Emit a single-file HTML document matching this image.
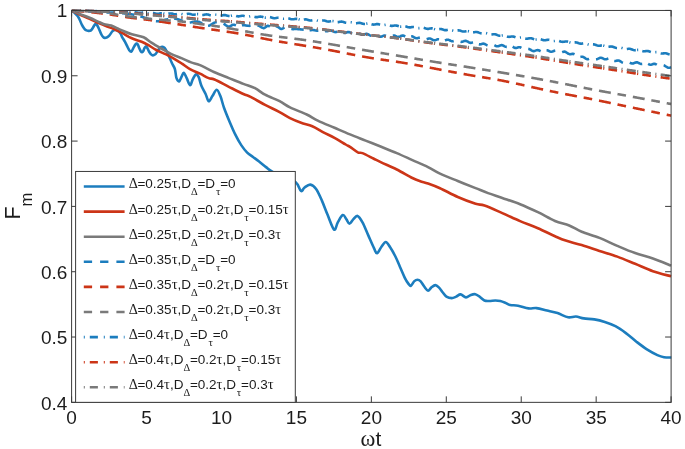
<!DOCTYPE html>
<html lang="en">
<head>
<meta charset="utf-8">
<title>Fidelity F_m versus ωt</title>
<style>
html,body{margin:0;padding:0;background:#ffffff;}
body{width:685px;height:449px;overflow:hidden;font-family:"Liberation Sans",sans-serif;}
svg{display:block;will-change:transform;}
</style>
</head>
<body>
<svg width="685" height="449" viewBox="0 0 685 449">
<rect x="0" y="0" width="685" height="449" fill="#ffffff"/>
<defs><clipPath id="ax"><rect x="71.6" y="8.9" width="600.0" height="393.4"/></clipPath></defs>
<g clip-path="url(#ax)">
<path d="M71.60 10.60C72.17 11.05 73.97 12.37 75.00 13.30C76.03 14.23 77.00 15.08 77.80 16.20C78.60 17.32 79.13 18.58 79.80 20.00C80.47 21.42 81.10 23.32 81.80 24.70C82.50 26.08 83.32 27.38 84.00 28.30C84.68 29.22 85.15 29.77 85.90 30.20C86.65 30.63 87.65 30.87 88.50 30.90C89.35 30.93 90.25 30.95 91.00 30.40C91.75 29.85 92.42 28.52 93.00 27.60C93.58 26.68 94.07 25.52 94.50 24.90C94.93 24.28 95.22 23.90 95.60 23.90C95.98 23.90 96.33 24.28 96.80 24.90C97.27 25.52 97.63 26.00 98.40 27.60C99.17 29.20 100.60 32.93 101.40 34.50C102.20 36.07 102.63 36.43 103.20 37.00C103.77 37.57 104.17 37.85 104.80 37.90C105.43 37.95 106.27 37.67 107.00 37.30C107.73 36.93 108.33 36.67 109.20 35.70C110.07 34.73 111.43 32.42 112.20 31.50C112.97 30.58 113.25 30.45 113.80 30.20C114.35 29.95 114.80 29.87 115.50 30.00C116.20 30.13 117.17 30.42 118.00 31.00C118.83 31.58 119.83 32.53 120.50 33.50C121.17 34.47 121.27 35.45 122.00 36.80C122.73 38.15 124.08 40.13 124.90 41.60C125.72 43.07 126.22 44.23 126.90 45.60C127.58 46.97 128.27 48.78 129.00 49.80C129.73 50.82 130.50 52.15 131.30 51.70C132.10 51.25 133.10 48.32 133.80 47.10C134.50 45.88 135.02 44.98 135.50 44.40C135.98 43.82 136.28 43.53 136.70 43.60C137.12 43.67 137.58 44.05 138.00 44.80C138.42 45.55 138.75 47.03 139.20 48.10C139.65 49.17 140.22 50.50 140.70 51.20C141.18 51.90 141.65 52.35 142.10 52.30C142.55 52.25 143.00 51.60 143.40 50.90C143.80 50.20 143.98 48.82 144.50 48.10C145.02 47.38 145.75 46.03 146.50 46.60C147.25 47.17 148.25 50.22 149.00 51.50C149.75 52.78 150.35 53.65 151.00 54.30C151.65 54.95 152.10 55.47 152.90 55.40C153.70 55.33 154.98 54.72 155.80 53.90C156.62 53.08 157.05 51.55 157.80 50.50C158.55 49.45 159.52 48.22 160.30 47.60C161.08 46.98 161.78 46.73 162.50 46.80C163.22 46.87 163.88 47.22 164.60 48.00C165.32 48.78 166.05 50.10 166.80 51.50C167.55 52.90 168.23 54.43 169.10 56.40C169.97 58.37 171.03 61.18 172.00 63.30C172.97 65.42 174.15 66.62 174.90 69.10C175.65 71.58 175.80 76.15 176.50 78.20C177.20 80.25 178.25 81.65 179.10 81.40C179.95 81.15 180.82 78.13 181.60 76.70C182.38 75.27 182.95 72.55 183.80 72.80C184.65 73.05 185.65 76.13 186.70 78.20C187.75 80.27 189.12 84.97 190.10 85.20C191.08 85.43 191.65 81.38 192.60 79.60C193.55 77.82 194.80 74.95 195.80 74.50C196.80 74.05 197.68 75.07 198.60 76.90C199.52 78.73 200.15 82.70 201.30 85.50C202.45 88.30 204.27 91.07 205.50 93.70C206.73 96.33 207.55 100.90 208.70 101.30C209.85 101.70 211.07 98.03 212.40 96.10C213.73 94.17 215.37 89.70 216.70 89.70C218.03 89.70 219.18 93.10 220.40 96.10C221.62 99.10 222.43 103.35 224.00 107.70C225.57 112.05 227.87 117.62 229.80 122.20C231.73 126.78 233.67 131.33 235.60 135.20C237.53 139.07 239.47 142.50 241.40 145.40C243.33 148.30 245.27 150.67 247.20 152.60C249.13 154.53 251.07 155.55 253.00 157.00C254.93 158.45 256.63 159.62 258.80 161.30C260.97 162.98 263.83 165.42 266.00 167.10C268.17 168.78 268.97 169.75 271.80 171.40C274.63 173.05 279.02 175.18 283.00 177.00C286.98 178.82 292.70 179.97 295.70 182.30C298.70 184.63 299.53 190.13 301.00 191.00C302.47 191.87 302.95 188.57 304.50 187.50C306.05 186.43 308.37 184.35 310.30 184.60C312.23 184.85 314.17 186.33 316.10 189.00C318.03 191.67 319.97 196.25 321.90 200.60C323.83 204.95 325.67 210.27 327.70 215.10C329.73 219.93 332.42 228.40 334.10 229.60C335.78 230.80 336.35 224.72 337.80 222.30C339.25 219.88 341.35 215.58 342.80 215.10C344.25 214.62 345.40 217.95 346.50 219.40C347.60 220.85 348.28 223.80 349.40 223.80C350.52 223.80 351.85 220.72 353.20 219.40C354.55 218.08 355.95 215.42 357.50 215.90C359.05 216.38 360.70 219.05 362.50 222.30C364.30 225.55 366.37 231.05 368.30 235.40C370.23 239.75 372.65 245.42 374.10 248.40C375.55 251.38 375.80 253.53 377.00 253.30C378.20 253.07 379.85 248.88 381.30 247.00C382.75 245.12 384.25 242.00 385.70 242.00C387.15 242.00 388.38 244.58 390.00 247.00C391.62 249.42 393.75 253.22 395.40 256.50C397.05 259.78 398.33 263.15 399.90 266.70C401.47 270.25 403.37 274.93 404.80 277.80C406.23 280.67 407.48 282.57 408.50 283.90C409.52 285.23 409.97 286.22 410.90 285.80C411.83 285.38 413.00 282.42 414.10 281.40C415.20 280.38 416.40 279.70 417.50 279.70C418.60 279.70 419.55 280.22 420.70 281.40C421.85 282.58 423.17 285.25 424.40 286.80C425.63 288.35 426.97 290.57 428.10 290.70C429.23 290.83 429.98 288.53 431.20 287.60C432.42 286.67 434.08 285.10 435.40 285.10C436.72 285.10 437.87 286.37 439.10 287.60C440.33 288.83 441.58 291.00 442.80 292.50C444.02 294.00 444.90 295.67 446.40 296.60C447.90 297.53 450.17 298.10 451.80 298.10C453.43 298.10 454.73 297.22 456.20 296.60C457.67 295.98 458.97 294.27 460.60 294.40C462.23 294.53 464.28 297.32 466.00 297.40C467.72 297.48 469.35 295.43 470.90 294.90C472.45 294.37 473.87 293.92 475.30 294.20C476.73 294.48 477.98 295.55 479.50 296.60C481.02 297.65 482.77 299.77 484.40 300.50C486.03 301.23 487.47 301.00 489.30 301.00C491.13 301.00 493.57 300.50 495.40 300.50C497.23 300.50 498.67 300.63 500.30 301.00C501.93 301.37 503.55 302.03 505.20 302.70C506.85 303.37 508.05 304.50 510.20 305.00C512.35 305.50 515.03 305.13 518.10 305.70C521.17 306.27 525.53 308.00 528.60 308.40C531.67 308.80 533.43 307.75 536.50 308.10C539.57 308.45 543.50 309.67 547.00 310.50C550.50 311.33 553.98 311.97 557.50 313.10C561.02 314.23 565.03 316.73 568.10 317.30C571.17 317.87 573.28 316.32 575.90 316.50C578.52 316.68 580.73 317.92 583.80 318.40C586.87 318.88 590.80 318.80 594.30 319.40C597.80 320.00 601.28 320.87 604.80 322.00C608.32 323.13 611.88 324.35 615.40 326.20C618.92 328.05 622.40 330.52 625.90 333.10C629.40 335.68 632.90 338.98 636.40 341.70C639.90 344.42 643.40 347.17 646.90 349.40C650.40 351.63 654.55 353.80 657.40 355.10C660.25 356.40 661.65 356.80 664.00 357.20C666.35 357.60 670.25 357.45 671.50 357.50" fill="none" stroke="#1c7dbe" stroke-width="2.60" stroke-linejoin="round"/>
<path d="M71.60 10.50C72.97 11.18 76.80 13.22 79.80 14.60C82.80 15.98 86.33 17.33 89.60 18.80C92.87 20.27 96.45 22.10 99.40 23.40C102.35 24.70 104.85 25.65 107.30 26.60C109.75 27.55 111.65 28.05 114.10 29.10C116.55 30.15 119.05 31.37 122.00 32.90C124.95 34.43 128.53 36.83 131.80 38.30C135.07 39.77 138.98 40.65 141.60 41.70C144.22 42.75 145.05 43.22 147.50 44.60C149.95 45.98 153.20 48.37 156.30 50.00C159.40 51.63 162.83 52.77 166.10 54.40C169.37 56.03 173.25 58.25 175.90 59.80C178.55 61.35 179.65 62.13 182.00 63.70C184.35 65.27 187.00 67.53 190.00 69.20C193.00 70.87 196.88 72.22 200.00 73.70C203.12 75.18 206.28 77.13 208.70 78.10C211.12 79.07 211.13 78.05 214.50 79.50C217.87 80.95 224.08 84.38 228.90 86.80C233.72 89.22 239.78 92.32 243.40 94.00C247.02 95.68 246.98 95.08 250.60 96.90C254.22 98.72 260.27 102.37 265.10 104.90C269.93 107.43 275.45 109.88 279.60 112.10C283.75 114.32 286.42 116.42 290.00 118.20C293.58 119.98 297.38 121.47 301.10 122.80C304.82 124.13 308.58 124.62 312.30 126.20C316.02 127.78 319.70 130.37 323.40 132.30C327.10 134.23 330.78 135.77 334.50 137.80C338.22 139.83 343.12 143.00 345.70 144.50C348.28 146.00 347.98 145.50 350.00 146.80C352.02 148.10 355.72 151.25 357.80 152.30C359.88 153.35 359.90 152.07 362.50 153.10C365.10 154.13 370.28 156.95 373.40 158.50C376.52 160.05 377.30 160.57 381.20 162.40C385.10 164.23 391.60 166.90 396.80 169.50C402.00 172.10 408.50 176.05 412.40 178.00C416.30 179.95 417.60 180.28 420.20 181.20C422.80 182.12 424.70 182.33 428.00 183.50C431.30 184.67 435.03 185.95 440.00 188.20C444.97 190.45 451.87 194.40 457.80 197.00C463.73 199.60 471.15 202.37 475.60 203.80C480.05 205.23 480.05 204.05 484.50 205.60C488.95 207.15 496.37 210.52 502.30 213.10C508.23 215.68 514.17 218.58 520.10 221.10C526.03 223.62 532.08 225.68 537.90 228.20C543.72 230.72 550.37 234.13 555.00 236.20C559.63 238.27 561.25 239.12 565.70 240.60C570.15 242.08 576.07 243.38 581.70 245.10C587.33 246.82 593.57 248.98 599.50 250.90C605.43 252.82 611.37 254.45 617.30 256.60C623.23 258.75 629.17 261.37 635.10 263.80C641.03 266.23 646.90 269.12 652.90 271.20C658.90 273.28 668.07 275.45 671.10 276.30" fill="none" stroke="#cc3517" stroke-width="2.60" stroke-linejoin="round"/>
<path d="M71.60 10.50C72.97 11.07 76.80 12.68 79.80 13.90C82.80 15.12 86.33 16.42 89.60 17.80C92.87 19.18 96.95 21.13 99.40 22.20C101.85 23.27 102.33 23.63 104.30 24.20C106.27 24.77 108.75 24.78 111.20 25.60C113.65 26.42 117.20 28.30 119.00 29.10C120.80 29.90 119.87 29.53 122.00 30.40C124.13 31.27 128.20 33.15 131.80 34.30C135.40 35.45 140.33 35.90 143.60 37.30C146.87 38.70 148.47 40.83 151.40 42.70C154.33 44.57 157.93 46.63 161.20 48.50C164.47 50.37 167.53 52.25 171.00 53.90C174.47 55.55 178.65 56.98 182.00 58.40C185.35 59.82 188.10 61.28 191.10 62.40C194.10 63.52 196.10 63.45 200.00 65.10C203.90 66.75 209.68 70.13 214.50 72.30C219.32 74.47 224.08 76.17 228.90 78.10C233.72 80.03 239.05 82.22 243.40 83.90C247.75 85.58 251.38 86.40 255.00 88.20C258.62 90.00 261.00 92.53 265.10 94.70C269.20 96.87 275.45 99.08 279.60 101.20C283.75 103.32 285.48 105.18 290.00 107.40C294.52 109.62 302.07 112.30 306.70 114.50C311.33 116.70 313.17 118.38 317.80 120.60C322.43 122.82 329.13 125.50 334.50 127.80C339.87 130.10 344.82 132.27 350.00 134.40C355.18 136.53 360.40 138.53 365.60 140.60C370.80 142.67 376.00 144.72 381.20 146.80C386.40 148.88 391.60 150.88 396.80 153.10C402.00 155.32 407.20 157.77 412.40 160.10C417.60 162.43 423.40 164.85 428.00 167.10C432.60 169.35 435.03 171.28 440.00 173.60C444.97 175.92 451.87 178.58 457.80 181.00C463.73 183.42 470.55 186.08 475.60 188.10C480.65 190.12 483.65 191.47 488.10 193.10C492.55 194.73 496.97 196.05 502.30 197.90C507.63 199.75 514.17 201.82 520.10 204.20C526.03 206.58 532.08 209.40 537.90 212.20C543.72 215.00 549.78 218.78 555.00 221.00C560.22 223.22 564.75 223.72 569.20 225.50C573.65 227.28 576.65 229.63 581.70 231.70C586.75 233.77 593.57 235.53 599.50 237.90C605.43 240.27 611.37 243.37 617.30 245.90C623.23 248.43 629.17 251.02 635.10 253.10C641.03 255.18 646.90 256.32 652.90 258.40C658.90 260.48 668.07 264.40 671.10 265.60" fill="none" stroke="#7a7a7a" stroke-width="2.60" stroke-linejoin="round"/>
<path d="M72.65 10.57L73.38 10.61L74.10 10.65L74.83 10.69L75.55 10.73L76.28 10.77L77.00 10.81L77.72 10.85L78.45 10.89L79.17 10.93L79.90 10.97L80.62 11.02L81.35 11.06M88.20 11.43L88.93 11.47L89.66 11.51L90.39 11.55L91.12 11.59L91.85 11.63L92.58 11.67L93.31 11.70L94.04 11.74L94.76 11.78L95.49 11.82L96.22 11.85L96.95 11.89L97.68 11.93L98.41 11.96L99.14 12.00L99.87 12.04L100.60 12.07M106.50 12.35L107.22 12.38L107.95 12.41L108.67 12.44L109.40 12.47L110.12 12.51L110.85 12.54L111.58 12.57L112.30 12.60L113.03 12.63L113.75 12.66L114.48 12.69L115.20 12.72M122.05 13.14L122.78 13.20L123.51 13.27L124.24 13.34L124.97 13.41L125.70 13.49L126.43 13.57L127.16 13.66L127.89 13.75L128.61 13.85L129.34 13.95L130.07 14.07L130.80 14.18L131.53 14.31L132.26 14.44L132.99 14.58L133.72 14.72L134.45 14.88M140.35 16.40L141.08 16.62L141.80 16.84L142.53 17.07L143.25 17.31L143.98 17.54L144.70 17.79L145.43 18.03L146.15 18.28L146.88 18.54L147.60 18.79L148.33 19.06L149.05 19.32M155.90 21.22L156.63 21.27L157.36 21.27L158.09 21.24L158.82 21.18L159.55 21.10L160.28 20.98L161.01 20.85L161.74 20.70L162.46 20.53L163.19 20.36L163.92 20.18L164.65 19.99L165.38 19.81L166.11 19.62L166.84 19.45L167.57 19.29L168.30 19.14M174.20 18.68L174.93 18.73L175.65 18.81L176.38 18.92L177.10 19.06L177.83 19.23L178.55 19.43L179.28 19.66L180.00 19.91L180.73 20.17L181.45 20.44L182.18 20.72L182.90 20.99M189.75 22.49L190.48 22.43L191.21 22.33L191.94 22.20L192.67 22.05L193.40 21.90L194.13 21.76L194.86 21.64L195.59 21.56L196.31 21.52L197.04 21.55L197.77 21.65L198.50 21.82L199.23 22.07L199.96 22.37L200.69 22.71L201.42 23.09L202.15 23.48M208.05 25.80L208.78 25.71L209.50 25.48L210.23 25.14L210.95 24.72L211.68 24.27L212.40 23.81L213.12 23.38L213.85 22.98L214.57 22.64L215.30 22.35L216.03 22.14L216.75 22.01M223.60 23.73L224.33 24.16L225.06 24.64L225.79 25.18L226.52 25.70L227.25 26.16L227.98 26.48L228.71 26.60L229.44 26.48L230.16 26.18L230.89 25.78L231.62 25.36L232.35 25.00L233.08 24.79L233.81 24.76L234.54 24.89L235.27 25.11L236.00 25.38M241.90 25.33L242.63 25.23L243.35 25.19L244.08 25.22L244.80 25.30L245.53 25.41L246.25 25.54L246.98 25.66L247.70 25.76L248.43 25.82L249.15 25.84L249.88 25.82L250.60 25.77M257.45 25.44L258.18 25.60L258.91 25.84L259.64 26.16L260.37 26.58L261.10 27.05L261.83 27.50L262.56 27.87L263.29 28.09L264.01 28.08L264.74 27.78L265.47 27.26L266.20 26.66L266.93 26.13L267.66 25.82L268.39 25.86L269.12 26.18L269.85 26.62M275.75 26.39L276.48 26.41L277.20 26.57L277.93 26.87L278.65 27.35L279.38 27.95L280.10 28.51L280.83 28.88L281.55 28.94L282.28 28.72L283.00 28.34L283.73 27.88L284.45 27.45M291.30 28.95L292.03 29.05L292.76 29.08L293.49 29.08L294.22 29.06L294.95 29.03L295.68 29.00L296.41 29.00L297.14 29.03L297.86 29.08L298.59 29.15L299.32 29.23L300.05 29.31L300.78 29.40L301.51 29.48L302.24 29.54L302.97 29.58L303.70 29.63M309.60 30.19L310.33 30.15L311.05 30.09L311.78 30.03L312.50 30.01L313.23 30.03L313.95 30.12L314.68 30.25L315.40 30.40L316.12 30.55L316.85 30.66L317.57 30.70L318.30 30.66M325.15 31.01L325.88 31.17L326.61 31.23L327.34 31.17L328.07 31.01L328.80 30.81L329.53 30.63L330.26 30.53L330.99 30.55L331.71 30.71L332.44 30.99L333.17 31.33L333.90 31.68L334.63 31.95L335.36 32.08L336.09 32.06L336.82 31.89L337.55 31.65M343.45 32.84L344.18 33.02L344.90 33.02L345.63 32.86L346.35 32.60L347.08 32.32L347.80 32.11L348.53 32.03L349.25 32.13L349.98 32.40L350.70 32.77L351.43 33.19L352.15 33.55M359.00 33.24L359.73 33.63L360.46 34.06L361.19 34.43L361.92 34.67L362.65 34.74L363.38 34.65L364.11 34.43L364.84 34.16L365.56 33.93L366.29 33.83L367.02 33.89L367.75 34.13L368.48 34.51L369.21 34.94L369.94 35.35L370.67 35.66L371.40 35.79M377.30 35.40L378.03 35.81L378.75 36.21L379.48 36.52L380.20 36.68L380.93 36.66L381.65 36.48L382.38 36.19L383.10 35.89L383.82 35.65L384.55 35.55L385.27 35.62L386.00 35.84M392.85 35.72L393.58 35.58L394.31 35.62L395.04 35.82L395.77 36.13L396.50 36.47L397.23 36.75L397.96 36.90L398.69 36.88L399.41 36.69L400.14 36.38L400.87 36.04L401.60 35.74L402.33 35.58L403.06 35.59L403.79 35.78L404.52 36.11L405.25 36.50M411.15 36.28L411.88 36.31L412.60 36.51L413.33 36.86L414.05 37.30L414.78 37.73L415.50 38.07L416.23 38.26L416.95 38.27L417.68 38.13L418.40 37.89L419.12 37.64L419.85 37.47M426.70 39.23L427.43 38.97L428.16 38.70L428.89 38.51L429.62 38.46L430.35 38.59L431.08 38.88L431.81 39.28L432.54 39.69L433.26 40.04L433.99 40.25L434.72 40.28L435.45 40.15L436.18 39.89L436.91 39.59L437.64 39.34L438.37 39.21L439.10 39.25M445.00 40.48L445.73 40.17L446.45 39.88L447.18 39.70L447.90 39.68L448.63 39.83L449.35 40.13L450.08 40.51L450.80 40.88L451.53 41.15L452.25 41.28L452.98 41.23L453.70 41.02M460.55 41.71L461.28 41.85L462.01 41.82L462.74 41.63L463.47 41.36L464.20 41.09L464.93 40.90L465.66 40.86L466.39 41.01L467.11 41.32L467.84 41.74L468.57 42.18L469.30 42.55L470.03 42.79L470.76 42.86L471.49 42.76L472.22 42.55L472.95 42.32M478.85 44.23L479.58 44.37L480.30 44.34L481.03 44.17L481.75 43.94L482.48 43.74L483.20 43.65L483.93 43.72L484.65 43.95L485.38 44.32L486.10 44.76L486.82 45.18L487.55 45.50M494.40 45.15L495.13 45.54L495.86 45.92L496.59 46.19L497.32 46.30L498.05 46.24L498.78 46.02L499.51 45.72L500.24 45.42L500.96 45.21L501.69 45.15L502.42 45.27L503.15 45.55L503.88 45.93L504.61 46.34L505.34 46.67L506.07 46.86L506.80 46.88M512.70 46.73L513.43 47.18L514.15 47.57L514.88 47.85L515.60 47.96L516.33 47.90L517.05 47.72L517.78 47.49L518.50 47.29L519.23 47.21L519.95 47.30L520.68 47.56L521.40 47.97M528.25 48.91L528.98 49.01L529.71 49.28L530.44 49.69L531.17 50.16L531.90 50.60L532.63 50.93L533.36 51.10L534.09 51.08L534.81 50.90L535.54 50.63L536.27 50.36L537.00 50.18L537.73 50.13L538.46 50.26L539.19 50.54L539.92 50.90L540.65 51.27M546.55 50.31L547.27 50.35L548.00 50.56L548.72 50.87L549.45 51.23L550.17 51.53L550.90 51.71L551.62 51.72L552.35 51.56L553.08 51.29L553.80 50.97L554.52 50.69L555.25 50.54M562.10 52.13L562.83 51.89L563.56 51.70L564.29 51.64L565.02 51.75L565.75 52.05L566.48 52.49L567.21 53.00L567.94 53.49L568.66 53.89L569.39 54.13L570.12 54.19L570.85 54.13L571.58 53.99L572.31 53.87L573.04 53.85L573.77 54.00L574.50 54.33M580.40 56.93L581.12 56.80L581.85 56.75L582.58 56.82L583.30 57.06L584.02 57.45L584.75 57.93L585.48 58.43L586.20 58.85L586.92 59.13L587.65 59.22L588.38 59.11L589.10 58.87M595.95 59.31L596.68 59.26L597.41 59.04L598.14 58.69L598.87 58.31L599.60 57.98L600.33 57.77L601.06 57.74L601.79 57.90L602.51 58.20L603.24 58.57L603.97 58.93L604.70 59.19L605.43 59.30L606.16 59.25L606.89 59.07L607.62 58.83L608.35 58.61M614.25 60.93L614.98 61.01L615.70 60.94L616.42 60.77L617.15 60.59L617.88 60.48L618.60 60.51L619.33 60.72L620.05 61.07L620.78 61.53L621.50 62.01L622.23 62.42L622.95 62.68M629.80 62.60L630.53 62.99L631.26 63.32L631.99 63.51L632.72 63.52L633.45 63.36L634.18 63.09L634.91 62.77L635.64 62.49L636.36 62.35L637.09 62.37L637.82 62.57L638.55 62.90L639.28 63.29L640.01 63.64L640.74 63.89L641.47 63.96L642.20 63.87M648.10 63.82L648.83 64.23L649.55 64.54L650.28 64.70L651.00 64.68L651.73 64.52L652.45 64.27L653.18 64.02L653.90 63.85L654.62 63.84L655.35 64.00L656.08 64.32L656.80 64.76M663.65 65.37L664.39 65.59L665.14 65.97L665.88 66.46L666.63 66.97L667.38 67.40L668.12 67.68L668.87 67.78L669.61 67.71L670.36 67.53L671.10 67.33" fill="none" stroke="#1c7dbe" stroke-width="2.60" stroke-linejoin="round"/>
<path d="M75.90 10.86L76.61 10.92L77.32 10.98L78.03 11.04L78.73 11.10L79.44 11.16L80.15 11.22L80.86 11.28L81.57 11.34L82.28 11.40L82.98 11.46L83.69 11.52L84.40 11.59M91.25 12.23L91.99 12.30L92.72 12.38L93.46 12.45L94.20 12.53L94.94 12.61L95.67 12.69L96.41 12.77L97.15 12.85L97.89 12.93L98.62 13.01L99.36 13.10L100.10 13.19L100.84 13.27L101.58 13.36L102.31 13.46L103.05 13.55M109.75 14.46L110.46 14.57L111.17 14.68L111.88 14.78L112.58 14.89L113.29 15.00L114.00 15.12L114.71 15.23L115.42 15.34L116.12 15.46L116.83 15.57L117.54 15.69L118.25 15.80M125.10 16.91L125.84 17.02L126.58 17.13L127.31 17.24L128.05 17.35L128.79 17.46L129.53 17.57L130.26 17.67L131.00 17.77L131.74 17.87L132.47 17.96L133.21 18.05L133.95 18.15L134.69 18.24L135.43 18.32L136.16 18.41L136.90 18.50M143.60 19.26L144.31 19.35L145.02 19.43L145.73 19.52L146.43 19.60L147.14 19.69L147.85 19.78L148.56 19.87L149.27 19.97L149.98 20.06L150.68 20.16L151.39 20.26L152.10 20.35M158.95 21.37L159.69 21.49L160.43 21.60L161.16 21.71L161.90 21.83L162.64 21.94L163.38 22.06L164.11 22.17L164.85 22.28L165.59 22.40L166.33 22.51L167.06 22.62L167.80 22.74L168.54 22.85L169.28 22.96L170.01 23.07L170.75 23.18M177.45 24.20L178.16 24.31L178.87 24.41L179.58 24.52L180.28 24.63L180.99 24.75L181.70 24.86L182.41 24.97L183.12 25.08L183.83 25.19L184.53 25.31L185.24 25.42L185.95 25.54M192.80 26.64L193.54 26.76L194.28 26.87L195.01 26.99L195.75 27.11L196.49 27.22L197.23 27.33L197.96 27.45L198.70 27.56L199.44 27.67L200.18 27.78L200.91 27.89L201.65 28.01L202.39 28.11L203.13 28.22L203.86 28.33L204.60 28.44M211.30 29.40L212.01 29.51L212.72 29.61L213.43 29.71L214.13 29.81L214.84 29.91L215.55 30.01L216.26 30.11L216.97 30.21L217.68 30.31L218.38 30.42L219.09 30.52L219.80 30.62M226.65 31.63L227.39 31.74L228.13 31.85L228.86 31.97L229.60 32.08L230.34 32.20L231.08 32.31L231.81 32.43L232.55 32.55L233.29 32.66L234.03 32.78L234.76 32.90L235.50 33.03L236.24 33.15L236.98 33.27L237.71 33.40L238.45 33.52M245.15 34.73L245.86 34.87L246.57 35.00L247.28 35.14L247.98 35.28L248.69 35.42L249.40 35.56L250.11 35.70L250.82 35.85L251.53 35.99L252.23 36.14L252.94 36.29L253.65 36.44M260.50 37.90L261.24 38.05L261.98 38.21L262.71 38.36L263.45 38.52L264.19 38.67L264.93 38.82L265.66 38.97L266.40 39.12L267.14 39.27L267.88 39.42L268.61 39.56L269.35 39.70L270.09 39.85L270.82 39.99L271.56 40.13L272.30 40.27M279.00 41.48L279.71 41.61L280.42 41.73L281.12 41.85L281.83 41.98L282.54 42.10L283.25 42.22L283.96 42.34L284.67 42.46L285.38 42.58L286.08 42.70L286.79 42.81L287.50 42.93M294.35 44.05L295.09 44.17L295.83 44.29L296.56 44.41L297.30 44.53L298.04 44.65L298.78 44.77L299.51 44.89L300.25 45.01L300.99 45.13L301.73 45.25L302.46 45.37L303.20 45.49L303.94 45.61L304.68 45.73L305.41 45.86L306.15 45.98M312.85 47.10L313.56 47.22L314.27 47.34L314.98 47.46L315.68 47.58L316.39 47.70L317.10 47.82L317.81 47.95L318.52 48.07L319.23 48.19L319.93 48.32L320.64 48.44L321.35 48.57M328.20 49.80L328.94 49.94L329.68 50.08L330.41 50.22L331.15 50.36L331.89 50.50L332.63 50.64L333.36 50.78L334.10 50.92L334.84 51.06L335.58 51.21L336.31 51.35L337.05 51.49L337.79 51.64L338.53 51.79L339.26 51.93L340.00 52.08M346.70 53.43L347.41 53.57L348.12 53.71L348.83 53.85L349.53 54.00L350.24 54.14L350.95 54.28L351.66 54.42L352.37 54.56L353.08 54.70L353.78 54.84L354.49 54.98L355.20 55.12M362.05 56.42L362.79 56.55L363.53 56.69L364.26 56.82L365.00 56.95L365.74 57.08L366.48 57.21L367.21 57.34L367.95 57.46L368.69 57.59L369.43 57.71L370.16 57.83L370.90 57.95L371.64 58.07L372.38 58.18L373.11 58.30L373.85 58.42M380.55 59.43L381.26 59.53L381.97 59.63L382.68 59.74L383.38 59.84L384.09 59.94L384.80 60.04L385.51 60.14L386.22 60.25L386.93 60.35L387.63 60.45L388.34 60.55L389.05 60.65M395.90 61.66L396.64 61.77L397.38 61.88L398.11 61.99L398.85 62.11L399.59 62.22L400.33 62.33L401.06 62.45L401.80 62.57L402.54 62.69L403.28 62.81L404.01 62.93L404.75 63.05L405.49 63.17L406.23 63.29L406.96 63.42L407.70 63.55M414.40 64.73L415.11 64.86L415.82 64.99L416.53 65.12L417.23 65.25L417.94 65.38L418.65 65.51L419.36 65.64L420.07 65.78L420.78 65.91L421.48 66.04L422.19 66.18L422.90 66.31M429.75 67.63L430.49 67.77L431.23 67.91L431.96 68.05L432.70 68.20L433.44 68.34L434.18 68.48L434.91 68.62L435.65 68.77L436.39 68.91L437.13 69.05L437.86 69.20L438.60 69.34L439.34 69.48L440.08 69.62L440.81 69.76L441.55 69.91M448.25 71.18L448.96 71.32L449.67 71.45L450.38 71.59L451.08 71.72L451.79 71.85L452.50 71.98L453.21 72.12L453.92 72.25L454.63 72.38L455.33 72.51L456.04 72.64L456.75 72.77M463.60 74.01L464.34 74.14L465.08 74.27L465.81 74.40L466.55 74.53L467.29 74.66L468.03 74.79L468.76 74.92L469.50 75.05L470.24 75.17L470.98 75.30L471.71 75.42L472.45 75.55L473.19 75.67L473.93 75.80L474.66 75.92L475.40 76.04M482.10 77.15L482.81 77.27L483.52 77.38L484.23 77.50L484.93 77.62L485.64 77.73L486.35 77.85L487.06 77.97L487.77 78.09L488.48 78.21L489.18 78.33L489.89 78.45L490.60 78.57M497.45 79.77L498.19 79.90L498.93 80.04L499.66 80.17L500.40 80.31L501.14 80.45L501.88 80.59L502.61 80.73L503.35 80.87L504.09 81.02L504.83 81.16L505.56 81.31L506.30 81.46L507.04 81.61L507.78 81.76L508.51 81.91L509.25 82.06M515.95 83.50L516.66 83.65L517.37 83.81L518.08 83.97L518.78 84.12L519.49 84.28L520.20 84.44L520.91 84.60L521.62 84.76L522.33 84.92L523.03 85.08L523.74 85.24L524.45 85.40M531.30 86.95L532.04 87.11L532.77 87.28L533.51 87.44L534.25 87.61L534.99 87.77L535.72 87.94L536.46 88.10L537.20 88.27L537.94 88.43L538.67 88.59L539.41 88.75L540.15 88.91L540.89 89.07L541.62 89.23L542.36 89.39L543.10 89.55M549.80 90.97L550.51 91.12L551.22 91.26L551.92 91.41L552.63 91.56L553.34 91.70L554.05 91.85L554.76 91.99L555.47 92.14L556.17 92.28L556.88 92.42L557.59 92.57L558.30 92.71M565.15 94.06L565.89 94.21L566.62 94.35L567.36 94.49L568.10 94.64L568.84 94.78L569.57 94.92L570.31 95.06L571.05 95.20L571.79 95.34L572.52 95.48L573.26 95.62L574.00 95.76L574.74 95.90L575.47 96.04L576.21 96.18L576.95 96.32M583.65 97.58L584.36 97.71L585.07 97.85L585.77 97.98L586.48 98.12L587.19 98.26L587.90 98.39L588.61 98.53L589.32 98.67L590.02 98.80L590.73 98.94L591.44 99.08L592.15 99.22M599.00 100.60L599.74 100.75L600.48 100.91L601.21 101.06L601.95 101.21L602.69 101.36L603.42 101.51L604.16 101.67L604.90 101.82L605.64 101.98L606.38 102.13L607.11 102.28L607.85 102.44L608.59 102.59L609.32 102.75L610.06 102.90L610.80 103.06M617.50 104.47L618.21 104.62L618.92 104.77L619.62 104.92L620.33 105.07L621.04 105.22L621.75 105.37L622.46 105.52L623.17 105.67L623.88 105.82L624.58 105.96L625.29 106.11L626.00 106.26M632.85 107.70L633.59 107.85L634.33 108.00L635.06 108.16L635.80 108.31L636.54 108.47L637.27 108.62L638.01 108.77L638.75 108.93L639.49 109.08L640.23 109.23L640.96 109.39L641.70 109.54L642.44 109.69L643.17 109.85L643.91 110.00L644.65 110.15M651.35 111.54L652.06 111.69L652.77 111.83L653.48 111.98L654.18 112.13L654.89 112.27L655.60 112.42L656.31 112.57L657.02 112.71L657.73 112.86L658.43 113.00L659.14 113.15L659.85 113.30M666.70 114.71L667.43 114.86L668.17 115.01L668.90 115.16L669.63 115.32L670.37 115.47L671.10 115.62" fill="none" stroke="#cc3517" stroke-width="2.60" stroke-linejoin="round"/>
<path d="M75.90 10.71L76.61 10.74L77.32 10.78L78.03 10.81L78.73 10.85L79.44 10.88L80.15 10.92L80.86 10.96L81.57 10.99L82.28 11.03L82.98 11.07L83.69 11.11L84.40 11.15M91.25 11.59L91.99 11.64L92.72 11.70L93.46 11.75L94.20 11.81L94.94 11.87L95.67 11.93L96.41 11.99L97.15 12.06L97.89 12.12L98.62 12.19L99.36 12.26L100.10 12.33L100.84 12.41L101.58 12.48L102.31 12.56L103.05 12.64M109.75 13.47L110.46 13.56L111.17 13.67L111.88 13.77L112.58 13.88L113.29 13.98L114.00 14.09L114.71 14.20L115.42 14.32L116.12 14.43L116.83 14.54L117.54 14.66L118.25 14.77M125.10 15.89L125.84 16.01L126.58 16.12L127.31 16.23L128.05 16.35L128.79 16.45L129.53 16.56L130.26 16.67L131.00 16.77L131.74 16.87L132.47 16.97L133.21 17.06L133.95 17.15L134.69 17.24L135.43 17.33L136.16 17.42L136.90 17.50M143.60 18.20L144.31 18.27L145.02 18.34L145.73 18.41L146.43 18.48L147.14 18.54L147.85 18.61L148.56 18.68L149.27 18.74L149.98 18.81L150.68 18.88L151.39 18.94L152.10 19.01M158.95 19.63L159.69 19.70L160.43 19.76L161.16 19.83L161.90 19.89L162.64 19.96L163.38 20.02L164.11 20.08L164.85 20.14L165.59 20.20L166.33 20.26L167.06 20.32L167.80 20.37L168.54 20.43L169.28 20.49L170.01 20.55L170.75 20.60M177.45 21.15L178.16 21.22L178.87 21.28L179.58 21.35L180.28 21.42L180.99 21.49L181.70 21.57L182.41 21.64L183.12 21.72L183.83 21.80L184.53 21.89L185.24 21.97L185.95 22.06M192.80 22.97L193.54 23.07L194.28 23.17L195.01 23.27L195.75 23.38L196.49 23.48L197.23 23.58L197.96 23.68L198.70 23.79L199.44 23.89L200.18 23.99L200.91 24.09L201.65 24.19L202.39 24.29L203.13 24.38L203.86 24.48L204.60 24.58M211.30 25.49L212.01 25.58L212.72 25.68L213.43 25.78L214.13 25.88L214.84 25.99L215.55 26.09L216.26 26.19L216.97 26.30L217.68 26.41L218.38 26.51L219.09 26.62L219.80 26.73M226.65 27.86L227.39 27.99L228.13 28.11L228.86 28.24L229.60 28.37L230.34 28.50L231.08 28.63L231.81 28.77L232.55 28.90L233.29 29.03L234.03 29.17L234.76 29.30L235.50 29.44L236.24 29.57L236.98 29.71L237.71 29.85L238.45 29.99M245.15 31.25L245.86 31.38L246.57 31.52L247.28 31.65L247.98 31.78L248.69 31.92L249.40 32.05L250.11 32.18L250.82 32.32L251.53 32.45L252.23 32.58L252.94 32.71L253.65 32.84M260.50 34.06L261.24 34.19L261.98 34.31L262.71 34.43L263.45 34.56L264.19 34.68L264.93 34.80L265.66 34.91L266.40 35.03L267.14 35.14L267.88 35.26L268.61 35.37L269.35 35.48L270.09 35.59L270.82 35.69L271.56 35.80L272.30 35.90M279.00 36.79L279.71 36.88L280.42 36.97L281.12 37.05L281.83 37.14L282.54 37.23L283.25 37.32L283.96 37.40L284.67 37.49L285.38 37.58L286.08 37.66L286.79 37.75L287.50 37.83M294.35 38.67L295.09 38.76L295.83 38.85L296.56 38.95L297.30 39.04L298.04 39.14L298.78 39.23L299.51 39.33L300.25 39.43L300.99 39.53L301.73 39.63L302.46 39.73L303.20 39.83L303.94 39.93L304.68 40.04L305.41 40.14L306.15 40.25M312.85 41.26L313.56 41.37L314.27 41.48L314.98 41.59L315.68 41.70L316.39 41.82L317.10 41.93L317.81 42.05L318.52 42.16L319.23 42.28L319.93 42.40L320.64 42.51L321.35 42.63M328.20 43.79L328.94 43.92L329.68 44.05L330.41 44.17L331.15 44.30L331.89 44.43L332.63 44.56L333.36 44.69L334.10 44.82L334.84 44.95L335.58 45.08L336.31 45.21L337.05 45.34L337.79 45.47L338.53 45.60L339.26 45.73L340.00 45.86M346.70 47.05L347.41 47.17L348.12 47.30L348.83 47.42L349.53 47.55L350.24 47.67L350.95 47.80L351.66 47.92L352.37 48.05L353.08 48.17L353.78 48.30L354.49 48.42L355.20 48.55M362.05 49.75L362.79 49.88L363.53 50.00L364.26 50.13L365.00 50.26L365.74 50.38L366.48 50.51L367.21 50.64L367.95 50.76L368.69 50.89L369.43 51.01L370.16 51.14L370.90 51.26L371.64 51.38L372.38 51.51L373.11 51.63L373.85 51.76M380.55 52.87L381.26 52.98L381.97 53.10L382.68 53.22L383.38 53.33L384.09 53.45L384.80 53.56L385.51 53.68L386.22 53.80L386.93 53.91L387.63 54.03L388.34 54.15L389.05 54.26M395.90 55.39L396.64 55.51L397.38 55.63L398.11 55.75L398.85 55.88L399.59 56.00L400.33 56.12L401.06 56.24L401.80 56.37L402.54 56.49L403.28 56.61L404.01 56.74L404.75 56.86L405.49 56.99L406.23 57.11L406.96 57.23L407.70 57.36M414.40 58.50L415.11 58.62L415.82 58.74L416.53 58.86L417.23 58.98L417.94 59.10L418.65 59.22L419.36 59.34L420.07 59.46L420.78 59.58L421.48 59.70L422.19 59.82L422.90 59.94M429.75 61.09L430.49 61.21L431.23 61.33L431.96 61.45L432.70 61.58L433.44 61.70L434.18 61.82L434.91 61.94L435.65 62.06L436.39 62.18L437.13 62.30L437.86 62.41L438.60 62.53L439.34 62.65L440.08 62.77L440.81 62.89L441.55 63.00M448.25 64.06L448.96 64.17L449.67 64.28L450.38 64.39L451.08 64.50L451.79 64.61L452.50 64.72L453.21 64.83L453.92 64.94L454.63 65.04L455.33 65.15L456.04 65.26L456.75 65.37M463.60 66.44L464.34 66.55L465.08 66.66L465.81 66.78L466.55 66.90L467.29 67.01L468.03 67.13L468.76 67.24L469.50 67.36L470.24 67.47L470.98 67.59L471.71 67.71L472.45 67.82L473.19 67.94L473.93 68.06L474.66 68.18L475.40 68.30M482.10 69.38L482.81 69.49L483.52 69.61L484.23 69.72L484.93 69.84L485.64 69.96L486.35 70.07L487.06 70.19L487.77 70.30L488.48 70.42L489.18 70.54L489.89 70.65L490.60 70.77M497.45 71.91L498.19 72.03L498.93 72.15L499.66 72.28L500.40 72.40L501.14 72.52L501.88 72.64L502.61 72.77L503.35 72.89L504.09 73.01L504.83 73.14L505.56 73.26L506.30 73.38L507.04 73.51L507.78 73.63L508.51 73.76L509.25 73.88M515.95 75.01L516.66 75.13L517.37 75.25L518.08 75.37L518.78 75.49L519.49 75.61L520.20 75.73L520.91 75.85L521.62 75.98L522.33 76.10L523.03 76.22L523.74 76.34L524.45 76.46M531.30 77.66L532.04 77.79L532.77 77.92L533.51 78.05L534.25 78.19L534.99 78.32L535.72 78.45L536.46 78.58L537.20 78.72L537.94 78.85L538.67 78.98L539.41 79.12L540.15 79.25L540.89 79.39L541.62 79.52L542.36 79.66L543.10 79.80M549.80 81.05L550.51 81.19L551.22 81.32L551.92 81.46L552.63 81.59L553.34 81.73L554.05 81.86L554.76 82.00L555.47 82.14L556.17 82.27L556.88 82.41L557.59 82.55L558.30 82.69M565.15 84.03L565.89 84.18L566.62 84.33L567.36 84.47L568.10 84.62L568.84 84.77L569.57 84.91L570.31 85.06L571.05 85.21L571.79 85.36L572.52 85.51L573.26 85.66L574.00 85.81L574.74 85.96L575.47 86.10L576.21 86.25L576.95 86.40M583.65 87.75L584.36 87.89L585.07 88.03L585.77 88.17L586.48 88.31L587.19 88.45L587.90 88.59L588.61 88.73L589.32 88.87L590.02 89.00L590.73 89.14L591.44 89.28L592.15 89.41M599.00 90.70L599.74 90.84L600.48 90.97L601.21 91.11L601.95 91.24L602.69 91.38L603.42 91.51L604.16 91.65L604.90 91.78L605.64 91.91L606.38 92.05L607.11 92.18L607.85 92.31L608.59 92.45L609.32 92.58L610.06 92.71L610.80 92.85M617.50 94.05L618.21 94.18L618.92 94.30L619.62 94.43L620.33 94.56L621.04 94.69L621.75 94.82L622.46 94.95L623.17 95.07L623.88 95.20L624.58 95.33L625.29 95.46L626.00 95.59M632.85 96.85L633.59 96.98L634.33 97.12L635.06 97.26L635.80 97.39L636.54 97.53L637.27 97.67L638.01 97.80L638.75 97.94L639.49 98.08L640.23 98.21L640.96 98.35L641.70 98.49L642.44 98.63L643.17 98.76L643.91 98.90L644.65 99.04M651.35 100.30L652.06 100.43L652.77 100.56L653.48 100.69L654.18 100.83L654.89 100.96L655.60 101.09L656.31 101.23L657.02 101.36L657.73 101.50L658.43 101.63L659.14 101.76L659.85 101.90M666.70 103.19L667.43 103.33L668.17 103.47L668.90 103.61L669.63 103.75L670.37 103.89L671.10 104.02" fill="none" stroke="#7a7a7a" stroke-width="2.60" stroke-linejoin="round"/>
<path d="M71.60 10.50L72.24 10.52L72.88 10.53L73.53 10.55L74.17 10.56L74.81 10.58L75.45 10.59M79.85 10.70L80.40 10.71L80.95 10.72M85.20 10.83L85.95 10.84L86.70 10.86L87.45 10.88L88.20 10.90L88.95 10.92L89.70 10.94L90.45 10.96L91.20 10.97L91.95 10.99L92.70 11.01L93.45 11.03L94.20 11.05M95.50 11.08L96.05 11.10L96.60 11.11M100.70 11.22L101.42 11.24L102.13 11.26L102.85 11.28L103.57 11.30L104.28 11.32L105.00 11.34L105.72 11.36L106.43 11.38L107.15 11.40L107.87 11.42L108.58 11.44L109.30 11.46M113.70 11.59L114.25 11.61L114.80 11.62M119.05 11.76L119.80 11.79L120.55 11.82L121.30 11.86L122.05 11.89L122.80 11.91L123.55 11.92L124.30 11.93L125.05 11.94L125.80 11.95L126.55 11.98L127.30 12.03L128.05 12.10M129.35 12.23L129.90 12.27L130.45 12.30M134.55 12.24L135.27 12.27L135.98 12.34L136.70 12.45L137.42 12.56L138.13 12.68L138.85 12.77L139.57 12.81L140.28 12.81L141.00 12.76L141.72 12.70L142.43 12.63L143.15 12.59M147.55 13.26L148.10 13.33L148.65 13.35M152.90 12.94L153.65 13.03L154.40 13.20L155.15 13.41L155.90 13.61L156.65 13.76L157.40 13.83L158.15 13.80L158.90 13.67L159.65 13.50L160.40 13.33L161.15 13.22L161.90 13.22M163.20 13.44L163.75 13.60L164.30 13.77M168.40 13.81L169.12 13.63L169.83 13.50L170.55 13.44L171.27 13.47L171.98 13.60L172.70 13.79L173.42 14.01L174.13 14.19L174.85 14.30L175.57 14.32L176.28 14.25L177.00 14.10M181.40 13.88L181.95 14.04L182.50 14.20M186.75 14.09L187.50 13.91L188.25 13.81L189.00 13.81L189.75 13.92L190.50 14.11L191.25 14.34L192.00 14.55L192.75 14.69L193.50 14.73L194.25 14.66L195.00 14.52L195.75 14.34M197.05 14.10L197.60 14.07L198.15 14.10M202.25 15.04L202.97 15.01L203.68 14.91L204.40 14.75L205.12 14.58L205.83 14.45L206.55 14.40L207.27 14.45L207.98 14.59L208.70 14.79L209.42 15.02L210.13 15.21L210.85 15.34M215.25 14.74L215.80 14.73L216.35 14.79M220.60 15.69L221.35 15.62L222.10 15.47L222.85 15.29L223.60 15.14L224.35 15.06L225.10 15.08L225.85 15.21L226.60 15.41L227.35 15.65L228.10 15.85L228.85 15.99L229.60 16.02M230.90 15.84L231.45 15.71L232.00 15.58M236.10 15.90L236.82 16.12L237.53 16.28L238.25 16.36L238.97 16.34L239.68 16.23L240.40 16.07L241.12 15.91L241.83 15.78L242.55 15.74L243.27 15.79L243.98 15.93L244.70 16.14M249.10 16.53L249.65 16.40L250.20 16.28M254.45 16.80L255.14 16.99L255.83 17.12L256.53 17.17L257.22 17.12L257.91 17.01L258.60 16.85L259.30 16.71L259.99 16.61L260.68 16.59L261.37 16.67L262.07 16.83L262.76 17.04L263.45 17.27M264.75 17.59L265.30 17.65L265.85 17.65M269.95 17.12L270.67 17.24L271.38 17.44L272.10 17.68L272.82 17.91L273.53 18.09L274.25 18.18L274.97 18.18L275.68 18.08L276.40 17.94L277.12 17.79L277.83 17.68L278.55 17.65M282.95 18.72L283.50 18.75L284.05 18.73M288.30 18.29L289.05 18.47L289.80 18.70L290.55 18.96L291.30 19.17L292.05 19.30L292.80 19.32L293.55 19.24L294.30 19.10L295.05 18.94L295.80 18.83L296.55 18.79L297.30 18.86M298.60 19.21L299.15 19.39L299.70 19.57M303.80 19.56L304.52 19.43L305.23 19.36L305.95 19.38L306.67 19.50L307.38 19.70L308.10 19.94L308.82 20.17L309.53 20.35L310.25 20.45L310.97 20.44L311.68 20.35L312.40 20.21M316.80 20.40L317.35 20.59L317.90 20.76M322.15 20.62L322.90 20.51L323.65 20.49L324.40 20.58L325.15 20.76L325.90 21.00L326.65 21.25L327.40 21.46L328.15 21.57L328.90 21.58L329.65 21.49L330.40 21.34L331.15 21.19M332.45 21.06L333.00 21.09L333.55 21.18M337.65 22.17L338.37 22.11L339.08 21.99L339.80 21.84L340.52 21.71L341.23 21.64L341.95 21.67L342.67 21.79L343.38 21.99L344.10 22.23L344.82 22.47L345.53 22.65L346.25 22.75M350.65 22.24L351.20 22.29L351.75 22.40M356.00 23.34L356.75 23.25L357.50 23.10L358.25 22.95L359.00 22.85L359.75 22.85L360.50 22.95L361.25 23.15L362.00 23.40L362.75 23.65L363.50 23.85L364.25 23.95L365.00 23.95M366.30 23.75L366.85 23.63L367.40 23.53M371.50 24.19L372.22 24.40L372.93 24.54L373.65 24.59L374.37 24.54L375.08 24.42L375.80 24.27L376.52 24.15L377.23 24.08L377.95 24.11L378.67 24.24L379.38 24.45L380.10 24.69M384.50 24.99L385.05 24.88L385.60 24.79M389.85 25.62L390.60 25.81L391.35 25.91L392.10 25.90L392.85 25.80L393.60 25.66L394.35 25.52L395.10 25.45L395.85 25.47L396.60 25.60L397.35 25.81L398.10 26.08L398.85 26.34M400.15 26.62L400.70 26.65L401.25 26.62M405.35 26.29L406.07 26.47L406.78 26.71L407.50 26.97L408.22 27.20L408.93 27.35L409.65 27.40L410.37 27.36L411.08 27.25L411.80 27.11L412.52 27.00L413.23 26.94L413.95 26.98M418.35 28.14L418.90 28.15L419.45 28.10M423.70 27.86L424.45 28.08L425.20 28.35L425.95 28.60L426.70 28.78L427.45 28.86L428.20 28.84L428.95 28.73L429.70 28.58L430.45 28.44L431.20 28.37L431.95 28.40L432.70 28.54M434.00 28.95L434.55 29.14L435.10 29.31M439.20 29.13L439.92 29.04L440.63 29.03L441.35 29.11L442.07 29.28L442.78 29.52L443.50 29.76L444.22 29.98L444.93 30.12L445.65 30.17L446.37 30.12L447.08 30.00L447.80 29.85M452.20 30.32L452.75 30.50L453.30 30.66M457.55 30.40L458.30 30.35L459.05 30.40L459.80 30.55L460.55 30.79L461.30 31.06L462.05 31.31L462.80 31.48L463.55 31.56L464.30 31.53L465.05 31.42L465.80 31.28L466.55 31.16M467.85 31.15L468.40 31.24L468.95 31.38M473.05 32.39L473.77 32.32L474.48 32.20L475.20 32.08L475.92 32.01L476.63 32.03L477.35 32.14L478.07 32.34L478.78 32.60L479.50 32.88L480.22 33.13L480.93 33.30L481.65 33.38M486.05 33.14L486.60 33.27L487.15 33.45M491.40 34.50L492.15 34.42L492.90 34.31L493.65 34.23L494.40 34.23L495.15 34.33L495.90 34.54L496.65 34.82L497.40 35.12L498.15 35.40L498.90 35.60L499.65 35.69L500.40 35.68M501.70 35.52L502.25 35.44L502.80 35.40M506.90 36.46L507.62 36.68L508.33 36.80L509.05 36.83L509.77 36.77L510.48 36.66L511.20 36.55L511.92 36.49L512.63 36.50L513.35 36.61L514.07 36.81L514.78 37.07L515.50 37.35M519.90 37.55L520.45 37.47L521.00 37.42M525.25 38.48L526.00 38.63L526.75 38.69L527.50 38.63L528.25 38.51L529.00 38.37L529.75 38.27L530.50 38.25L531.25 38.33L532.00 38.52L532.75 38.77L533.50 39.04L534.25 39.28M535.55 39.47L536.10 39.46L536.65 39.40M540.75 39.22L541.47 39.44L542.18 39.70L542.90 39.94L543.62 40.13L544.33 40.23L545.05 40.23L545.77 40.15L546.48 40.02L547.20 39.89L547.92 39.80L548.63 39.80L549.35 39.90M553.75 41.03L554.30 41.00L554.85 40.92M559.10 40.90L559.85 41.16L560.60 41.44L561.35 41.67L562.10 41.81L562.85 41.85L563.60 41.79L564.35 41.67L565.10 41.54L565.85 41.45L566.60 41.45L567.35 41.55L568.10 41.75M569.40 42.23L569.95 42.42L570.50 42.57M574.60 42.37L575.32 42.34L576.03 42.40L576.75 42.56L577.47 42.80L578.18 43.07L578.90 43.33L579.62 43.53L580.33 43.65L581.05 43.67L581.77 43.60L582.48 43.49L583.20 43.38M587.60 44.22L588.15 44.41L588.70 44.56M592.95 44.34L593.70 44.37L594.45 44.50L595.20 44.73L595.95 45.02L596.70 45.31L597.45 45.55L598.20 45.71L598.95 45.75L599.70 45.70L600.45 45.59L601.20 45.48L601.95 45.42M603.25 45.54L603.80 45.69L604.35 45.88M608.45 46.83L609.17 46.74L609.88 46.63L610.60 46.55L611.32 46.53L612.03 46.61L612.75 46.79L613.47 47.04L614.18 47.32L614.90 47.60L615.62 47.81L616.33 47.94L617.05 47.97M621.45 47.83L622.00 47.99L622.55 48.19M626.80 49.04L627.55 48.93L628.30 48.82L629.05 48.78L629.80 48.82L630.55 48.98L631.30 49.22L632.05 49.52L632.80 49.81L633.55 50.04L634.30 50.18L635.05 50.22L635.80 50.16M637.10 49.97L637.65 49.91L638.20 49.90M642.30 51.09L643.02 51.26L643.73 51.33L644.45 51.31L645.17 51.23L645.88 51.12L646.60 51.03L647.32 51.02L648.03 51.10L648.75 51.27L649.47 51.52L650.18 51.81L650.90 52.08M655.30 52.18L655.85 52.14L656.40 52.14M660.65 53.42L661.40 53.55L662.15 53.56L662.90 53.50L663.65 53.39L664.40 53.29L665.15 53.25L665.90 53.31L666.65 53.48L667.40 53.73L668.15 54.03L668.90 54.31L669.65 54.54" fill="none" stroke="#1c7dbe" stroke-width="2.60" stroke-linejoin="round"/>
<path d="M71.60 10.50L72.24 10.52L72.88 10.53L73.53 10.55L74.17 10.57L74.81 10.58L75.45 10.60M79.85 10.72L80.40 10.73L80.95 10.75M85.20 10.87L85.95 10.89L86.70 10.91L87.45 10.93L88.20 10.96L88.95 10.98L89.70 11.00L90.45 11.03L91.20 11.05L91.95 11.08L92.70 11.10L93.45 11.13L94.20 11.16M95.50 11.20L96.05 11.22L96.60 11.24M100.70 11.40L101.42 11.43L102.13 11.46L102.85 11.50L103.57 11.53L104.28 11.56L105.00 11.59L105.72 11.63L106.43 11.66L107.15 11.70L107.87 11.73L108.58 11.77L109.30 11.80M113.70 12.05L114.25 12.08L114.80 12.11M119.05 12.37L119.80 12.42L120.55 12.47L121.30 12.52L122.05 12.57L122.80 12.62L123.55 12.67L124.30 12.72L125.05 12.77L125.80 12.83L126.55 12.88L127.30 12.93L128.05 12.98M129.35 13.08L129.90 13.12L130.45 13.16M134.55 13.45L135.27 13.51L135.98 13.56L136.70 13.61L137.42 13.67L138.13 13.72L138.85 13.77L139.57 13.83L140.28 13.88L141.00 13.93L141.72 13.99L142.43 14.04L143.15 14.10M147.55 14.44L148.10 14.48L148.65 14.52M152.90 14.86L153.65 14.92L154.40 14.98L155.15 15.04L155.90 15.10L156.65 15.16L157.40 15.22L158.15 15.28L158.90 15.34L159.65 15.41L160.40 15.47L161.15 15.53L161.90 15.59M163.20 15.70L163.75 15.75L164.30 15.80M168.40 16.15L169.12 16.21L169.83 16.28L170.55 16.34L171.27 16.40L171.98 16.47L172.70 16.53L173.42 16.59L174.13 16.66L174.85 16.72L175.57 16.79L176.28 16.85L177.00 16.91M181.40 17.32L181.95 17.37L182.50 17.42M186.75 17.82L187.50 17.89L188.25 17.96L189.00 18.03L189.75 18.10L190.50 18.17L191.25 18.25L192.00 18.32L192.75 18.39L193.50 18.46L194.25 18.54L195.00 18.61L195.75 18.68M197.05 18.80L197.60 18.85L198.15 18.91M202.25 19.28L202.97 19.34L203.68 19.41L204.40 19.47L205.12 19.53L205.83 19.59L206.55 19.64L207.27 19.70L207.98 19.76L208.70 19.81L209.42 19.86L210.13 19.92L210.85 19.97M215.25 20.27L215.80 20.31L216.35 20.35M220.60 20.63L221.35 20.68L222.10 20.73L222.85 20.78L223.60 20.83L224.35 20.88L225.10 20.94L225.85 20.99L226.60 21.04L227.35 21.10L228.10 21.15L228.85 21.21L229.60 21.26M230.90 21.36L231.45 21.41L232.00 21.45M236.10 21.78L236.82 21.84L237.53 21.90L238.25 21.96L238.97 22.02L239.68 22.08L240.40 22.14L241.12 22.20L241.83 22.26L242.55 22.32L243.27 22.38L243.98 22.44L244.70 22.50M249.10 22.88L249.65 22.93L250.20 22.97M254.45 23.34L255.14 23.40L255.83 23.45L256.53 23.51L257.22 23.57L257.91 23.63L258.60 23.68L259.30 23.74L259.99 23.80L260.68 23.85L261.37 23.91L262.07 23.96L262.76 24.02L263.45 24.08M264.75 24.18L265.30 24.22L265.85 24.26M269.95 24.58L270.67 24.64L271.38 24.69L272.10 24.75L272.82 24.80L273.53 24.86L274.25 24.91L274.97 24.97L275.68 25.02L276.40 25.08L277.12 25.13L277.83 25.19L278.55 25.24M282.95 25.58L283.50 25.62L284.05 25.67M288.30 26.00L289.05 26.06L289.80 26.12L290.55 26.19L291.30 26.25L292.05 26.31L292.80 26.37L293.55 26.43L294.30 26.50L295.05 26.56L295.80 26.62L296.55 26.69L297.30 26.75M298.60 26.87L299.15 26.92L299.70 26.97M303.80 27.34L304.52 27.41L305.23 27.48L305.95 27.55L306.67 27.62L307.38 27.69L308.10 27.76L308.82 27.83L309.53 27.91L310.25 27.98L310.97 28.05L311.68 28.13L312.40 28.20M316.80 28.68L317.35 28.75L317.90 28.81M322.15 29.30L322.90 29.39L323.65 29.47L324.40 29.56L325.15 29.65L325.90 29.74L326.65 29.83L327.40 29.92L328.15 30.02L328.90 30.11L329.65 30.20L330.40 30.29L331.15 30.38M332.45 30.54L333.00 30.61L333.55 30.68M337.65 31.19L338.37 31.28L339.08 31.37L339.80 31.46L340.52 31.55L341.23 31.64L341.95 31.73L342.67 31.82L343.38 31.91L344.10 32.00L344.82 32.09L345.53 32.18L346.25 32.27M350.65 32.82L351.20 32.89L351.75 32.96M356.00 33.47L356.75 33.56L357.50 33.65L358.25 33.74L359.00 33.83L359.75 33.92L360.50 34.01L361.25 34.10L362.00 34.18L362.75 34.27L363.50 34.36L364.25 34.44L365.00 34.53M366.30 34.67L366.85 34.73L367.40 34.79M371.50 35.25L372.22 35.33L372.93 35.41L373.65 35.48L374.37 35.56L375.08 35.64L375.80 35.72L376.52 35.80L377.23 35.88L377.95 35.96L378.67 36.04L379.38 36.12L380.10 36.20M384.50 36.69L385.05 36.76L385.60 36.82M389.85 37.33L390.60 37.42L391.35 37.51L392.10 37.60L392.85 37.70L393.60 37.79L394.35 37.89L395.10 37.98L395.85 38.08L396.60 38.18L397.35 38.28L398.10 38.38L398.85 38.48M400.15 38.66L400.70 38.74L401.25 38.81M405.35 39.39L406.07 39.50L406.78 39.60L407.50 39.71L408.22 39.81L408.93 39.91L409.65 40.02L410.37 40.12L411.08 40.23L411.80 40.33L412.52 40.44L413.23 40.55L413.95 40.65M418.35 41.30L418.90 41.38L419.45 41.46M423.70 42.08L424.45 42.18L425.20 42.29L425.95 42.40L426.70 42.50L427.45 42.61L428.20 42.71L428.95 42.81L429.70 42.92L430.45 43.02L431.20 43.12L431.95 43.22L432.70 43.32M434.00 43.49L434.55 43.56L435.10 43.63M439.20 44.15L439.92 44.24L440.63 44.33L441.35 44.42L442.07 44.51L442.78 44.60L443.50 44.68L444.22 44.77L444.93 44.86L445.65 44.95L446.37 45.03L447.08 45.12L447.80 45.21M452.20 45.74L452.75 45.81L453.30 45.88M457.55 46.40L458.30 46.49L459.05 46.58L459.80 46.68L460.55 46.77L461.30 46.87L462.05 46.96L462.80 47.06L463.55 47.16L464.30 47.25L465.05 47.35L465.80 47.45L466.55 47.55M467.85 47.72L468.40 47.80L468.95 47.87M473.05 48.43L473.77 48.53L474.48 48.64L475.20 48.74L475.92 48.84L476.63 48.94L477.35 49.04L478.07 49.14L478.78 49.24L479.50 49.35L480.22 49.45L480.93 49.55L481.65 49.65M486.05 50.29L486.60 50.37L487.15 50.45M491.40 51.06L492.15 51.17L492.90 51.28L493.65 51.39L494.40 51.50L495.15 51.61L495.90 51.72L496.65 51.83L497.40 51.94L498.15 52.05L498.90 52.16L499.65 52.26L500.40 52.37M501.70 52.56L502.25 52.64L502.80 52.72M506.90 53.32L507.62 53.42L508.33 53.53L509.05 53.63L509.77 53.73L510.48 53.84L511.20 53.94L511.92 54.04L512.63 54.15L513.35 54.25L514.07 54.35L514.78 54.46L515.50 54.56M519.90 55.19L520.45 55.27L521.00 55.35M525.25 55.98L526.00 56.09L526.75 56.21L527.50 56.32L528.25 56.43L529.00 56.55L529.75 56.66L530.50 56.78L531.25 56.89L532.00 57.01L532.75 57.13L533.50 57.25L534.25 57.36M535.55 57.57L536.10 57.66L536.65 57.75M540.75 58.41L541.47 58.53L542.18 58.64L542.90 58.76L543.62 58.88L544.33 58.99L545.05 59.11L545.77 59.23L546.48 59.35L547.20 59.46L547.92 59.58L548.63 59.70L549.35 59.82M553.75 60.54L554.30 60.63L554.85 60.72M559.10 61.42L559.85 61.54L560.60 61.67L561.35 61.79L562.10 61.91L562.85 62.04L563.60 62.16L564.35 62.28L565.10 62.40L565.85 62.53L566.60 62.65L567.35 62.77L568.10 62.89M569.40 63.10L569.95 63.19L570.50 63.28M574.60 63.94L575.32 64.05L576.03 64.17L576.75 64.28L577.47 64.40L578.18 64.51L578.90 64.62L579.62 64.74L580.33 64.85L581.05 64.96L581.77 65.07L582.48 65.19L583.20 65.30M587.60 65.98L588.15 66.07L588.70 66.15M592.95 66.81L593.70 66.92L594.45 67.04L595.20 67.15L595.95 67.27L596.70 67.38L597.45 67.50L598.20 67.61L598.95 67.72L599.70 67.84L600.45 67.95L601.20 68.07L601.95 68.18M603.25 68.38L603.80 68.47L604.35 68.55M608.45 69.18L609.17 69.29L609.88 69.40L610.60 69.51L611.32 69.62L612.03 69.73L612.75 69.84L613.47 69.95L614.18 70.07L614.90 70.18L615.62 70.29L616.33 70.40L617.05 70.51M621.45 71.20L622.00 71.29L622.55 71.38M626.80 72.05L627.55 72.17L628.30 72.29L629.05 72.41L629.80 72.53L630.55 72.65L631.30 72.77L632.05 72.89L632.80 73.01L633.55 73.13L634.30 73.25L635.05 73.37L635.80 73.49M637.10 73.69L637.65 73.78L638.20 73.86M642.30 74.51L643.02 74.62L643.73 74.73L644.45 74.84L645.17 74.95L645.88 75.06L646.60 75.17L647.32 75.28L648.03 75.39L648.75 75.50L649.47 75.60L650.18 75.71L650.90 75.82M655.30 76.47L655.85 76.55L656.40 76.63M660.65 77.25L661.40 77.36L662.15 77.47L662.90 77.58L663.65 77.68L664.40 77.79L665.15 77.90L665.90 78.01L666.65 78.11L667.40 78.22L668.15 78.33L668.90 78.44L669.65 78.54" fill="none" stroke="#cc3517" stroke-width="2.60" stroke-linejoin="round"/>
<path d="M71.60 10.50L72.24 10.52L72.88 10.54L73.53 10.56L74.17 10.58L74.81 10.60L75.45 10.61M79.85 10.75L80.40 10.76L80.95 10.78M85.20 10.92L85.95 10.94L86.70 10.97L87.45 10.99L88.20 11.02L88.95 11.05L89.70 11.07L90.45 11.10L91.20 11.13L91.95 11.16L92.70 11.18L93.45 11.21L94.20 11.24M95.50 11.29L96.05 11.32L96.60 11.34M100.70 11.52L101.42 11.55L102.13 11.59L102.85 11.62L103.57 11.66L104.28 11.69L105.00 11.73L105.72 11.76L106.43 11.80L107.15 11.84L107.87 11.88L108.58 11.92L109.30 11.96M113.70 12.22L114.25 12.26L114.80 12.29M119.05 12.58L119.80 12.63L120.55 12.69L121.30 12.74L122.05 12.79L122.80 12.85L123.55 12.90L124.30 12.96L125.05 13.02L125.80 13.07L126.55 13.13L127.30 13.19L128.05 13.25M129.35 13.35L129.90 13.39L130.45 13.43M134.55 13.76L135.27 13.82L135.98 13.88L136.70 13.94L137.42 14.00L138.13 14.06L138.85 14.12L139.57 14.18L140.28 14.24L141.00 14.29L141.72 14.35L142.43 14.41L143.15 14.48M147.55 14.85L148.10 14.90L148.65 14.94M152.90 15.31L153.65 15.38L154.40 15.44L155.15 15.51L155.90 15.57L156.65 15.64L157.40 15.70L158.15 15.77L158.90 15.84L159.65 15.90L160.40 15.97L161.15 16.03L161.90 16.10M163.20 16.22L163.75 16.27L164.30 16.31M168.40 16.68L169.12 16.75L169.83 16.81L170.55 16.88L171.27 16.94L171.98 17.01L172.70 17.07L173.42 17.14L174.13 17.20L174.85 17.27L175.57 17.34L176.28 17.40L177.00 17.47M181.40 17.88L181.95 17.93L182.50 17.98M186.75 18.39L187.50 18.46L188.25 18.53L189.00 18.61L189.75 18.68L190.50 18.75L191.25 18.82L192.00 18.90L192.75 18.97L193.50 19.04L194.25 19.12L195.00 19.19L195.75 19.26M197.05 19.39L197.60 19.44L198.15 19.50M202.25 19.88L202.97 19.94L203.68 20.00L204.40 20.07L205.12 20.13L205.83 20.19L206.55 20.24L207.27 20.30L207.98 20.36L208.70 20.41L209.42 20.47L210.13 20.52L210.85 20.57M215.25 20.88L215.80 20.91L216.35 20.95M220.60 21.23L221.35 21.28L222.10 21.33L222.85 21.38L223.60 21.43L224.35 21.48L225.10 21.54L225.85 21.59L226.60 21.64L227.35 21.70L228.10 21.75L228.85 21.81L229.60 21.87M230.90 21.97L231.45 22.01L232.00 22.05M236.10 22.38L236.82 22.44L237.53 22.50L238.25 22.56L238.97 22.62L239.68 22.68L240.40 22.74L241.12 22.80L241.83 22.86L242.55 22.92L243.27 22.99L243.98 23.05L244.70 23.11M249.10 23.49L249.65 23.53L250.20 23.58M254.45 23.94L255.14 24.00L255.83 24.06L256.53 24.11L257.22 24.17L257.91 24.23L258.60 24.28L259.30 24.34L259.99 24.40L260.68 24.45L261.37 24.50L262.07 24.56L262.76 24.61L263.45 24.67M264.75 24.77L265.30 24.81L265.85 24.85M269.95 25.16L270.67 25.21L271.38 25.26L272.10 25.31L272.82 25.37L273.53 25.42L274.25 25.47L274.97 25.52L275.68 25.58L276.40 25.63L277.12 25.68L277.83 25.73L278.55 25.78M282.95 26.11L283.50 26.15L284.05 26.19M288.30 26.50L289.05 26.56L289.80 26.62L290.55 26.67L291.30 26.73L292.05 26.79L292.80 26.85L293.55 26.91L294.30 26.97L295.05 27.03L295.80 27.09L296.55 27.15L297.30 27.21M298.60 27.32L299.15 27.36L299.70 27.41M303.80 27.76L304.52 27.83L305.23 27.89L305.95 27.96L306.67 28.02L307.38 28.09L308.10 28.16L308.82 28.22L309.53 28.29L310.25 28.36L310.97 28.43L311.68 28.50L312.40 28.58M316.80 29.03L317.35 29.09L317.90 29.15M322.15 29.62L322.90 29.70L323.65 29.79L324.40 29.87L325.15 29.96L325.90 30.04L326.65 30.13L327.40 30.22L328.15 30.30L328.90 30.39L329.65 30.48L330.40 30.57L331.15 30.66M332.45 30.81L333.00 30.88L333.55 30.94M337.65 31.43L338.37 31.52L339.08 31.61L339.80 31.69L340.52 31.78L341.23 31.87L341.95 31.95L342.67 32.04L343.38 32.12L344.10 32.21L344.82 32.30L345.53 32.38L346.25 32.47M350.65 32.99L351.20 33.06L351.75 33.12M356.00 33.62L356.75 33.71L357.50 33.79L358.25 33.88L359.00 33.96L359.75 34.05L360.50 34.13L361.25 34.22L362.00 34.30L362.75 34.38L363.50 34.46L364.25 34.55L365.00 34.63M366.30 34.77L366.85 34.83L367.40 34.88M371.50 35.32L372.22 35.39L372.93 35.47L373.65 35.54L374.37 35.62L375.08 35.69L375.80 35.77L376.52 35.84L377.23 35.92L377.95 35.99L378.67 36.07L379.38 36.14L380.10 36.22M384.50 36.69L385.05 36.75L385.60 36.81M389.85 37.29L390.60 37.38L391.35 37.46L392.10 37.55L392.85 37.64L393.60 37.73L394.35 37.82L395.10 37.91L395.85 38.00L396.60 38.10L397.35 38.19L398.10 38.29L398.85 38.38M400.15 38.55L400.70 38.62L401.25 38.70M405.35 39.25L406.07 39.34L406.78 39.44L407.50 39.54L408.22 39.64L408.93 39.74L409.65 39.83L410.37 39.93L411.08 40.03L411.80 40.13L412.52 40.23L413.23 40.33L413.95 40.43M418.35 41.04L418.90 41.12L419.45 41.19M423.70 41.77L424.45 41.87L425.20 41.97L425.95 42.07L426.70 42.17L427.45 42.27L428.20 42.37L428.95 42.47L429.70 42.56L430.45 42.66L431.20 42.75L431.95 42.85L432.70 42.94M434.00 43.10L434.55 43.17L435.10 43.23M439.20 43.72L439.92 43.80L440.63 43.89L441.35 43.97L442.07 44.05L442.78 44.13L443.50 44.22L444.22 44.30L444.93 44.38L445.65 44.46L446.37 44.54L447.08 44.62L447.80 44.70M452.20 45.20L452.75 45.26L453.30 45.33M457.55 45.81L458.30 45.90L459.05 45.98L459.80 46.07L460.55 46.16L461.30 46.25L462.05 46.33L462.80 46.42L463.55 46.51L464.30 46.60L465.05 46.69L465.80 46.79L466.55 46.88M467.85 47.04L468.40 47.11L468.95 47.17M473.05 47.69L473.77 47.79L474.48 47.88L475.20 47.97L475.92 48.07L476.63 48.16L477.35 48.25L478.07 48.35L478.78 48.44L479.50 48.53L480.22 48.63L480.93 48.72L481.65 48.82M486.05 49.40L486.60 49.47L487.15 49.55M491.40 50.12L492.15 50.22L492.90 50.32L493.65 50.42L494.40 50.52L495.15 50.62L495.90 50.72L496.65 50.82L497.40 50.92L498.15 51.02L498.90 51.12L499.65 51.22L500.40 51.32M501.70 51.50L502.25 51.57L502.80 51.64M506.90 52.19L507.62 52.28L508.33 52.38L509.05 52.47L509.77 52.57L510.48 52.66L511.20 52.76L511.92 52.85L512.63 52.95L513.35 53.04L514.07 53.14L514.78 53.23L515.50 53.33M519.90 53.91L520.45 53.98L521.00 54.06M525.25 54.63L526.00 54.74L526.75 54.84L527.50 54.95L528.25 55.05L529.00 55.16L529.75 55.26L530.50 55.37L531.25 55.48L532.00 55.59L532.75 55.70L533.50 55.81L534.25 55.92M535.55 56.11L536.10 56.20L536.65 56.28M540.75 56.90L541.47 57.01L542.18 57.12L542.90 57.23L543.62 57.34L544.33 57.45L545.05 57.56L545.77 57.67L546.48 57.78L547.20 57.89L547.92 58.00L548.63 58.11L549.35 58.23M553.75 58.90L554.30 58.99L554.85 59.07M559.10 59.73L559.85 59.85L560.60 59.96L561.35 60.08L562.10 60.19L562.85 60.31L563.60 60.42L564.35 60.54L565.10 60.65L565.85 60.77L566.60 60.88L567.35 61.00L568.10 61.11M569.40 61.31L569.95 61.39L570.50 61.47M574.60 62.09L575.32 62.20L576.03 62.31L576.75 62.41L577.47 62.52L578.18 62.63L578.90 62.73L579.62 62.84L580.33 62.95L581.05 63.05L581.77 63.16L582.48 63.26L583.20 63.37M587.60 64.01L588.15 64.09L588.70 64.17M592.95 64.78L593.70 64.89L594.45 65.00L595.20 65.10L595.95 65.21L596.70 65.32L597.45 65.43L598.20 65.53L598.95 65.64L599.70 65.75L600.45 65.86L601.20 65.96L601.95 66.07M603.25 66.26L603.80 66.34L604.35 66.42M608.45 67.01L609.17 67.11L609.88 67.22L610.60 67.32L611.32 67.42L612.03 67.53L612.75 67.63L613.47 67.74L614.18 67.84L614.90 67.95L615.62 68.05L616.33 68.16L617.05 68.26M621.45 68.92L622.00 69.00L622.55 69.08M626.80 69.72L627.55 69.83L628.30 69.95L629.05 70.06L629.80 70.17L630.55 70.29L631.30 70.40L632.05 70.51L632.80 70.62L633.55 70.74L634.30 70.85L635.05 70.96L635.80 71.08M637.10 71.27L637.65 71.35L638.20 71.43M642.30 72.04L643.02 72.15L643.73 72.25L644.45 72.35L645.17 72.46L645.88 72.56L646.60 72.66L647.32 72.77L648.03 72.87L648.75 72.97L649.47 73.07L650.18 73.17L650.90 73.27M655.30 73.88L655.85 73.96L656.40 74.03M660.65 74.61L661.40 74.71L662.15 74.81L662.90 74.91L663.65 75.01L664.40 75.11L665.15 75.21L665.90 75.31L666.65 75.41L667.40 75.51L668.15 75.61L668.90 75.71L669.65 75.81" fill="none" stroke="#7a7a7a" stroke-width="2.60" stroke-linejoin="round"/>
</g>
<g stroke="#3a3a3a" stroke-width="1" fill="none">
<rect x="71.60" y="10.45" width="599.50" height="391.90"/>
<path d="M71.60 402.35v-6 M71.60 10.45v6"/>
<path d="M146.54 402.35v-6 M146.54 10.45v6"/>
<path d="M221.47 402.35v-6 M221.47 10.45v6"/>
<path d="M296.41 402.35v-6 M296.41 10.45v6"/>
<path d="M371.35 402.35v-6 M371.35 10.45v6"/>
<path d="M446.29 402.35v-6 M446.29 10.45v6"/>
<path d="M521.23 402.35v-6 M521.23 10.45v6"/>
<path d="M596.16 402.35v-6 M596.16 10.45v6"/>
<path d="M671.10 402.35v-6 M671.10 10.45v6"/>
<path d="M71.60 10.45h6 M671.10 10.45h-6"/>
<path d="M71.60 75.77h6 M671.10 75.77h-6"/>
<path d="M71.60 141.08h6 M671.10 141.08h-6"/>
<path d="M71.60 206.40h6 M671.10 206.40h-6"/>
<path d="M71.60 271.72h6 M671.10 271.72h-6"/>
<path d="M71.60 337.03h6 M671.10 337.03h-6"/>
<path d="M71.60 402.35h6 M671.10 402.35h-6"/>
</g>
<g font-family="'Liberation Sans', sans-serif" font-size="19" fill="#1c1c1c">
<text x="71.6" y="424.3" text-anchor="middle">0</text>
<text x="146.5" y="424.3" text-anchor="middle">5</text>
<text x="221.5" y="424.3" text-anchor="middle">10</text>
<text x="296.4" y="424.3" text-anchor="middle">15</text>
<text x="371.4" y="424.3" text-anchor="middle">20</text>
<text x="446.3" y="424.3" text-anchor="middle">25</text>
<text x="521.2" y="424.3" text-anchor="middle">30</text>
<text x="596.2" y="424.3" text-anchor="middle">35</text>
<text x="671.1" y="424.3" text-anchor="middle">40</text>
<text x="67.4" y="17.45" text-anchor="end">1</text>
<text x="67.4" y="83.07" text-anchor="end">0.9</text>
<text x="67.4" y="148.38" text-anchor="end">0.8</text>
<text x="67.4" y="213.70" text-anchor="end">0.7</text>
<text x="67.4" y="279.02" text-anchor="end">0.6</text>
<text x="67.4" y="344.33" text-anchor="end">0.5</text>
<text x="67.4" y="409.65" text-anchor="end">0.4</text>
</g>
<text x="360.6" y="446.1" font-size="21" fill="#1c1c1c" font-family="'Liberation Sans', sans-serif"><tspan font-family="'Liberation Serif', serif" font-size="22.5">ω</tspan>t</text>
<g transform="translate(20.3 219.4) rotate(-90)" font-size="21.5" fill="#1c1c1c" font-family="'Liberation Sans', sans-serif"><text x="0" y="0">F</text><text x="13.0" y="11.7" font-size="16.6">m</text></g>
<rect x="75.60" y="171.45" width="219.70" height="230.90" fill="#ffffff" stroke="#3a3a3a" stroke-width="1"/>
<path d="M83.8 186.50H124.6" stroke="#1c7dbe" stroke-width="2.60" fill="none"/>
<g fill="#1c1c1c" font-family="'Liberation Sans', sans-serif"><text x="128.85" y="188.40" font-size="14.2"><tspan font-family="'Liberation Serif', serif">Δ</tspan></text><text x="137.46" y="188.40" font-size="13.5">=0.25<tspan font-family="'Liberation Serif', serif" font-size="14.5">τ</tspan>,D</text><text x="190.95" y="195.40" font-size="10.4"><tspan font-family="'Liberation Serif', serif">Δ</tspan></text><text x="197.43" y="188.40" font-size="13.5">=D</text><text x="215.97" y="195.40" font-size="11.0"><tspan font-family="'Liberation Serif', serif">τ</tspan></text><text x="220.19" y="188.40" font-size="13.5">=0</text></g>
<path d="M83.8 211.60H124.6" stroke="#cc3517" stroke-width="2.60" fill="none"/>
<g fill="#1c1c1c" font-family="'Liberation Sans', sans-serif"><text x="128.85" y="213.50" font-size="14.2"><tspan font-family="'Liberation Serif', serif">Δ</tspan></text><text x="137.46" y="213.50" font-size="13.5">=0.25<tspan font-family="'Liberation Serif', serif" font-size="14.5">τ</tspan>,D</text><text x="190.95" y="220.50" font-size="10.4"><tspan font-family="'Liberation Serif', serif">Δ</tspan></text><text x="197.43" y="213.50" font-size="13.5">=0.2<tspan font-family="'Liberation Serif', serif" font-size="14.5">τ</tspan>,D</text><text x="244.31" y="220.50" font-size="11.0"><tspan font-family="'Liberation Serif', serif">τ</tspan></text><text x="248.53" y="213.50" font-size="13.5">=0.15<tspan font-family="'Liberation Serif', serif" font-size="14.5">τ</tspan></text></g>
<path d="M83.8 236.70H124.6" stroke="#7a7a7a" stroke-width="2.60" fill="none"/>
<g fill="#1c1c1c" font-family="'Liberation Sans', sans-serif"><text x="128.85" y="238.60" font-size="14.2"><tspan font-family="'Liberation Serif', serif">Δ</tspan></text><text x="137.46" y="238.60" font-size="13.5">=0.25<tspan font-family="'Liberation Serif', serif" font-size="14.5">τ</tspan>,D</text><text x="190.95" y="245.60" font-size="10.4"><tspan font-family="'Liberation Serif', serif">Δ</tspan></text><text x="197.43" y="238.60" font-size="13.5">=0.2<tspan font-family="'Liberation Serif', serif" font-size="14.5">τ</tspan>,D</text><text x="244.31" y="245.60" font-size="11.0"><tspan font-family="'Liberation Serif', serif">τ</tspan></text><text x="248.53" y="238.60" font-size="13.5">=0.3<tspan font-family="'Liberation Serif', serif" font-size="14.5">τ</tspan></text></g>
<path d="M83.8 261.80H124.6" stroke="#1c7dbe" stroke-width="2.60" fill="none" stroke-dasharray="8.3 8.0"/>
<g fill="#1c1c1c" font-family="'Liberation Sans', sans-serif"><text x="128.85" y="263.70" font-size="14.2"><tspan font-family="'Liberation Serif', serif">Δ</tspan></text><text x="137.46" y="263.70" font-size="13.5">=0.35<tspan font-family="'Liberation Serif', serif" font-size="14.5">τ</tspan>,D</text><text x="190.95" y="270.70" font-size="10.4"><tspan font-family="'Liberation Serif', serif">Δ</tspan></text><text x="197.43" y="263.70" font-size="13.5">=D</text><text x="215.97" y="270.70" font-size="11.0"><tspan font-family="'Liberation Serif', serif">τ</tspan></text><text x="220.19" y="263.70" font-size="13.5">=0</text></g>
<path d="M83.8 286.90H124.6" stroke="#cc3517" stroke-width="2.60" fill="none" stroke-dasharray="8.3 8.0"/>
<g fill="#1c1c1c" font-family="'Liberation Sans', sans-serif"><text x="128.85" y="288.80" font-size="14.2"><tspan font-family="'Liberation Serif', serif">Δ</tspan></text><text x="137.46" y="288.80" font-size="13.5">=0.35<tspan font-family="'Liberation Serif', serif" font-size="14.5">τ</tspan>,D</text><text x="190.95" y="295.80" font-size="10.4"><tspan font-family="'Liberation Serif', serif">Δ</tspan></text><text x="197.43" y="288.80" font-size="13.5">=0.2<tspan font-family="'Liberation Serif', serif" font-size="14.5">τ</tspan>,D</text><text x="244.31" y="295.80" font-size="11.0"><tspan font-family="'Liberation Serif', serif">τ</tspan></text><text x="248.53" y="288.80" font-size="13.5">=0.15<tspan font-family="'Liberation Serif', serif" font-size="14.5">τ</tspan></text></g>
<path d="M83.8 312.00H124.6" stroke="#7a7a7a" stroke-width="2.60" fill="none" stroke-dasharray="8.3 8.0"/>
<g fill="#1c1c1c" font-family="'Liberation Sans', sans-serif"><text x="128.85" y="313.90" font-size="14.2"><tspan font-family="'Liberation Serif', serif">Δ</tspan></text><text x="137.46" y="313.90" font-size="13.5">=0.35<tspan font-family="'Liberation Serif', serif" font-size="14.5">τ</tspan>,D</text><text x="190.95" y="320.90" font-size="10.4"><tspan font-family="'Liberation Serif', serif">Δ</tspan></text><text x="197.43" y="313.90" font-size="13.5">=0.2<tspan font-family="'Liberation Serif', serif" font-size="14.5">τ</tspan>,D</text><text x="244.31" y="320.90" font-size="11.0"><tspan font-family="'Liberation Serif', serif">τ</tspan></text><text x="248.53" y="313.90" font-size="13.5">=0.3<tspan font-family="'Liberation Serif', serif" font-size="14.5">τ</tspan></text></g>
<path d="M83.8 337.10H124.6" stroke="#1c7dbe" stroke-width="2.60" fill="none" stroke-dasharray="1.0 5.0 8.1 5.9"/>
<g fill="#1c1c1c" font-family="'Liberation Sans', sans-serif"><text x="128.85" y="339.00" font-size="14.2"><tspan font-family="'Liberation Serif', serif">Δ</tspan></text><text x="137.46" y="339.00" font-size="13.5">=0.4<tspan font-family="'Liberation Serif', serif" font-size="14.5">τ</tspan>,D</text><text x="183.44" y="346.00" font-size="10.4"><tspan font-family="'Liberation Serif', serif">Δ</tspan></text><text x="189.93" y="339.00" font-size="13.5">=D</text><text x="208.46" y="346.00" font-size="11.0"><tspan font-family="'Liberation Serif', serif">τ</tspan></text><text x="212.68" y="339.00" font-size="13.5">=0</text></g>
<path d="M83.8 362.20H124.6" stroke="#cc3517" stroke-width="2.60" fill="none" stroke-dasharray="1.0 5.0 8.1 5.9"/>
<g fill="#1c1c1c" font-family="'Liberation Sans', sans-serif"><text x="128.85" y="364.10" font-size="14.2"><tspan font-family="'Liberation Serif', serif">Δ</tspan></text><text x="137.46" y="364.10" font-size="13.5">=0.4<tspan font-family="'Liberation Serif', serif" font-size="14.5">τ</tspan>,D</text><text x="183.44" y="371.10" font-size="10.4"><tspan font-family="'Liberation Serif', serif">Δ</tspan></text><text x="189.93" y="364.10" font-size="13.5">=0.2<tspan font-family="'Liberation Serif', serif" font-size="14.5">τ</tspan>,D</text><text x="236.80" y="371.10" font-size="11.0"><tspan font-family="'Liberation Serif', serif">τ</tspan></text><text x="241.02" y="364.10" font-size="13.5">=0.15<tspan font-family="'Liberation Serif', serif" font-size="14.5">τ</tspan></text></g>
<path d="M83.8 387.30H124.6" stroke="#7a7a7a" stroke-width="2.60" fill="none" stroke-dasharray="1.0 5.0 8.1 5.9"/>
<g fill="#1c1c1c" font-family="'Liberation Sans', sans-serif"><text x="128.85" y="389.20" font-size="14.2"><tspan font-family="'Liberation Serif', serif">Δ</tspan></text><text x="137.46" y="389.20" font-size="13.5">=0.4<tspan font-family="'Liberation Serif', serif" font-size="14.5">τ</tspan>,D</text><text x="183.44" y="396.20" font-size="10.4"><tspan font-family="'Liberation Serif', serif">Δ</tspan></text><text x="189.93" y="389.20" font-size="13.5">=0.2<tspan font-family="'Liberation Serif', serif" font-size="14.5">τ</tspan>,D</text><text x="236.80" y="396.20" font-size="11.0"><tspan font-family="'Liberation Serif', serif">τ</tspan></text><text x="241.02" y="389.20" font-size="13.5">=0.3<tspan font-family="'Liberation Serif', serif" font-size="14.5">τ</tspan></text></g>
</svg>
</body>
</html>
